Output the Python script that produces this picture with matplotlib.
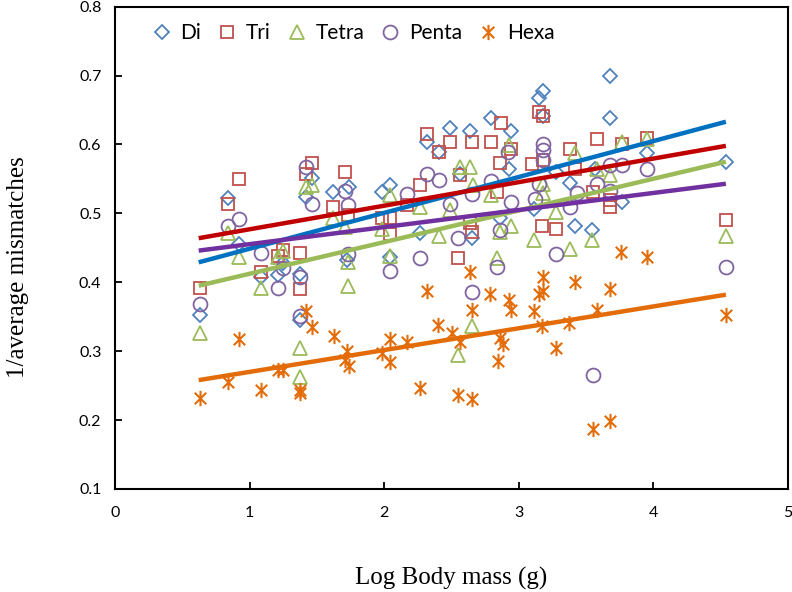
import matplotlib
matplotlib.use("Agg")
import matplotlib.pyplot as plt
from matplotlib.path import Path

# scatter values (log body mass, 1/average mismatches)
di_x = [0.63, 0.84, 0.92, 1.085, 1.21, 1.25, 1.37, 1.37, 1.46, 1.42, 1.62, 1.74, 1.72, 1.98, 2.04, 2.04,
        2.265, 2.32, 2.41, 2.49, 2.64, 2.79, 2.94, 3.15, 3.18, 3.18, 3.68, 3.68, 2.56, 2.93, 3.28, 3.38,
        3.77, 2.65, 2.86, 3.11, 3.42, 3.545, 4.54, 3.95, 3.57]
di_y = [0.353, 0.522, 0.455, 0.407, 0.411, 0.428, 0.345, 0.412, 0.552, 0.524, 0.531, 0.539, 0.432, 0.531, 0.541, 0.436,
        0.472, 0.604, 0.589, 0.624, 0.620, 0.638, 0.619, 0.667, 0.678, 0.642, 0.700, 0.638, 0.557, 0.564, 0.560, 0.544,
        0.516, 0.464, 0.494, 0.507, 0.482, 0.476, 0.574, 0.587, 0.565]

tri_x = [0.63, 0.84, 0.92, 1.085, 1.21, 1.25, 1.37, 1.37, 1.46, 1.42, 1.62, 1.71, 1.73, 1.98, 2.04, 2.04,
         2.265, 2.17, 2.32, 2.41, 2.49, 2.65, 2.79, 2.87, 2.94, 3.15, 3.18, 3.38, 3.58, 3.77, 2.56, 2.86,
         3.10, 3.18, 3.42, 2.84, 2.64, 2.65, 2.55, 3.17, 3.28, 3.68, 3.95, 3.55, 3.68, 4.54]
tri_y = [0.392, 0.514, 0.550, 0.415, 0.438, 0.447, 0.443, 0.390, 0.573, 0.557, 0.510, 0.560, 0.498, 0.494, 0.493, 0.470,
         0.541, 0.512, 0.615, 0.589, 0.604, 0.604, 0.604, 0.631, 0.593, 0.647, 0.642, 0.593, 0.608, 0.601, 0.555, 0.573,
         0.571, 0.578, 0.564, 0.531, 0.486, 0.473, 0.435, 0.481, 0.477, 0.509, 0.610, 0.531, 0.520, 0.490]

tetra_x = [0.63, 0.84, 0.92, 1.085, 1.21, 1.25, 1.37, 1.37, 1.42, 1.46, 1.62, 1.71, 1.73, 1.73, 1.98, 2.04,
           2.04, 2.265, 2.41, 2.49, 2.56, 2.64, 2.66, 2.79, 2.93, 2.94, 2.86, 2.84, 3.11, 3.18, 3.18, 3.28,
           3.38, 3.42, 3.545, 3.58, 3.68, 3.77, 2.55, 2.65, 3.95, 4.54]
tetra_y = [0.327, 0.471, 0.437, 0.392, 0.436, 0.446, 0.304, 0.262, 0.539, 0.541, 0.494, 0.480, 0.429, 0.395, 0.478, 0.526,
           0.438, 0.510, 0.467, 0.505, 0.568, 0.568, 0.541, 0.526, 0.599, 0.482, 0.473, 0.435, 0.461, 0.543, 0.530, 0.502,
           0.448, 0.587, 0.461, 0.564, 0.555, 0.604, 0.294, 0.336, 0.608, 0.467]

penta_x = [0.63, 0.84, 0.92, 1.085, 1.21, 1.25, 1.37, 1.37, 1.42, 1.46, 1.71, 1.73, 1.73, 2.04, 2.17, 2.32,
           2.41, 2.92, 3.18, 3.18, 3.18, 2.79, 2.65, 2.49, 3.15, 3.58, 3.77, 3.68, 2.94, 3.12, 3.43, 3.68,
           3.38, 2.55, 2.265, 2.86, 2.84, 3.28, 2.65, 3.55, 4.54, 3.95]
penta_y = [0.369, 0.481, 0.492, 0.443, 0.392, 0.421, 0.351, 0.408, 0.568, 0.514, 0.533, 0.512, 0.441, 0.417, 0.528, 0.557,
           0.548, 0.589, 0.601, 0.592, 0.577, 0.547, 0.528, 0.514, 0.543, 0.543, 0.570, 0.570, 0.516, 0.521, 0.530, 0.533,
           0.509, 0.464, 0.435, 0.476, 0.422, 0.441, 0.386, 0.266, 0.422, 0.565]

hexa_x = [0.626, 0.835, 0.919, 1.085, 1.21, 1.25, 1.371, 1.371, 1.421, 1.46, 1.627, 1.72, 1.71, 1.74, 1.98, 2.04,
          2.04, 2.17, 2.265, 2.32, 2.40, 2.50, 2.55, 2.563, 2.638, 2.655, 2.65, 2.787, 2.844, 2.86, 2.88, 2.93,
          2.94, 3.117, 3.147, 3.17, 3.18, 3.18, 3.28, 3.376, 3.42, 3.55, 3.58, 3.676, 3.68, 3.763, 3.95, 4.543]
hexa_y = [0.232, 0.255, 0.317, 0.243, 0.272, 0.272, 0.243, 0.240, 0.359, 0.335, 0.322, 0.300, 0.287, 0.279, 0.297, 0.317,
          0.285, 0.314, 0.246, 0.388, 0.338, 0.326, 0.236, 0.314, 0.415, 0.360, 0.231, 0.383, 0.286, 0.319, 0.310, 0.375,
          0.360, 0.359, 0.383, 0.336, 0.387, 0.407, 0.305, 0.341, 0.401, 0.187, 0.360, 0.198, 0.390, 0.444, 0.437, 0.353]

# linear trendlines: (start, end) values
trend_x = [0.62, 4.54]
di_trend = [0.429, 0.633]
tri_trend = [0.464, 0.598]
tetra_trend = [0.395, 0.575]
penta_trend = [0.446, 0.543]
hexa_trend = [0.258, 0.382]

labels = ["Di", "Tri", "Tetra", "Penta", "Hexa"]

# Excel style star: vertical bar plus an X
star = Path([(0, -1), (0, 1), (-0.75, -0.75), (0.75, 0.75), (-0.75, 0.75), (0.75, -0.75)],
            [Path.MOVETO, Path.LINETO, Path.MOVETO, Path.LINETO, Path.MOVETO, Path.LINETO])

fig = plt.figure(figsize=(7.92, 5.92), dpi=100)
ax = fig.add_axes([0.1456, 0.174, 0.849, 0.8147])

ax.plot(di_x, di_y, ls="none", marker="D", ms=7.5, mfc="none", mec="#4F81BD", mew=1.3, label=labels[0])
ax.plot(tri_x, tri_y, ls="none", marker="s", ms=9, mfc="none", mec="#C0504D", mew=1.3, label=labels[1])
ax.plot(tetra_x, tetra_y, ls="none", marker="^", ms=10, mfc="none", mec="#9BBB59", mew=1.3, label=labels[2])
ax.plot(penta_x, penta_y, ls="none", marker="o", ms=10, mfc="none", mec="#8064A2", mew=1.3, label=labels[3])
ax.plot(hexa_x, hexa_y, ls="none", marker=star, ms=11, mfc="none", mec="#E36C09", mew=1.5, label=labels[4])

ax.plot(trend_x, di_trend, color="#0070C0", lw=3.2, solid_capstyle="butt")
ax.plot(trend_x, tri_trend, color="#C00000", lw=3.2, solid_capstyle="butt")
ax.plot(trend_x, tetra_trend, color="#9BBB59", lw=3.2, solid_capstyle="butt")
ax.plot(trend_x, penta_trend, color="#7030A0", lw=3.2, solid_capstyle="butt")
ax.plot(trend_x, hexa_trend, color="#E36C09", lw=3.2, solid_capstyle="butt")

ax.set_xlim(0, 5)
ax.set_ylim(0.1, 0.8)
ax.set_xticks([0, 1, 2, 3, 4, 5])
ax.set_yticks([0.1, 0.2, 0.3, 0.4, 0.5, 0.6, 0.7, 0.8])
ax.set_yticklabels(["0.1", "0.2", "0.3", "0.4", "0.5", "0.6", "0.7", "0.8"])
ax.tick_params(direction="in", length=5, width=1.3, labelsize=11.5)
ax.tick_params(axis="x", pad=12)
ax.tick_params(axis="y", pad=10)
for lab in ax.get_xticklabels() + ax.get_yticklabels():
    lab.set_family("Lato")
for sp in ax.spines.values():
    sp.set_linewidth(1.5)

ax.set_xlabel("Log Body mass (g)", family="Liberation Serif", fontsize=18)
ax.set_ylabel("1/average mismatches", family="Liberation Serif", fontsize=18)
ax.xaxis.label.set_va("center")
ax.yaxis.label.set_va("center")
ax.xaxis.set_label_coords(0.5, -0.1845)
ax.yaxis.set_label_coords(-0.145, 0.46)

ax.legend(loc="upper left", bbox_to_anchor=(0.03, 1.0), ncol=5, frameon=False,
          prop={"family": "Lato", "size": 15}, handletextpad=0.45, columnspacing=0.8,
          handlelength=0.9, borderaxespad=0.4)

fig.savefig("out.png", dpi=100)
